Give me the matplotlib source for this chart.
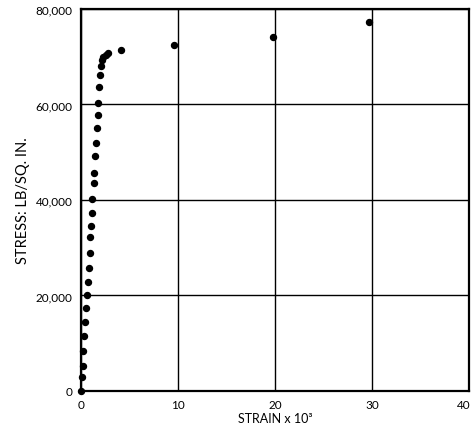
import numpy as np
import matplotlib.pyplot as plt
from matplotlib.ticker import FuncFormatter
from matplotlib.transforms import ScaledTranslation

# strain (x 10^3) and stress (lb/sq in)
strain = [0, 0.1, 0.2, 0.25, 0.35, 0.45, 0.55, 0.6, 0.7, 0.8, 0.9, 0.95,
          1.03, 1.1, 1.18, 1.3, 1.35, 1.48, 1.55, 1.65, 1.72, 1.8, 1.9,
          1.97, 2.02, 2.15, 2.3, 2.55, 2.8, 4.1, 9.6, 19.8, 29.7]
stress = [0, 3000, 5200, 8400, 11500, 14500, 17400, 20000, 22800, 25800,
          28900, 32200, 34600, 37300, 40200, 43500, 45700, 49200, 51900,
          55000, 57800, 60300, 63600, 66200, 68000, 69300, 70000, 70400,
          70800, 71400, 72500, 74100, 77300]

x_ticks = [0, 10, 20, 30, 40]
y_ticks = [0, 20000, 40000, 60000, 80000]

plt.rcParams['font.family'] = ['Lato', 'DejaVu Sans']

fig = plt.figure(figsize=(4.71, 4.31), dpi=100)
ax = fig.add_axes([0.172, 0.0905, 0.824, 0.8865])

ax.plot(strain, stress, 'o', color='black', ms=4.3, clip_on=False, zorder=3)

ax.set_xlim(0, 40)
ax.set_ylim(0, 80000)
ax.set_xticks(x_ticks)
ax.set_yticks(y_ticks)
ax.yaxis.set_major_formatter(FuncFormatter(lambda v, p: f'{int(v):,}'))
ax.tick_params(length=0, labelsize=8.5, pad=6)
ax.grid(True, color='black', lw=1)
for s in ax.spines.values():
    s.set_linewidth(1.6)

# last x label sits on the figure edge, nudge it in a bit
lab = ax.get_xticklabels()[-1]
lab.set_transform(lab.get_transform() + ScaledTranslation(-4 / 72, 0, fig.dpi_scale_trans))

ax.set_xlabel('STRAIN x 10³', fontsize=9, labelpad=1)
ax.set_ylabel('STRESS: LB/SQ. IN.', fontsize=10.5, labelpad=4)

fig.savefig('out.png', dpi=100)
